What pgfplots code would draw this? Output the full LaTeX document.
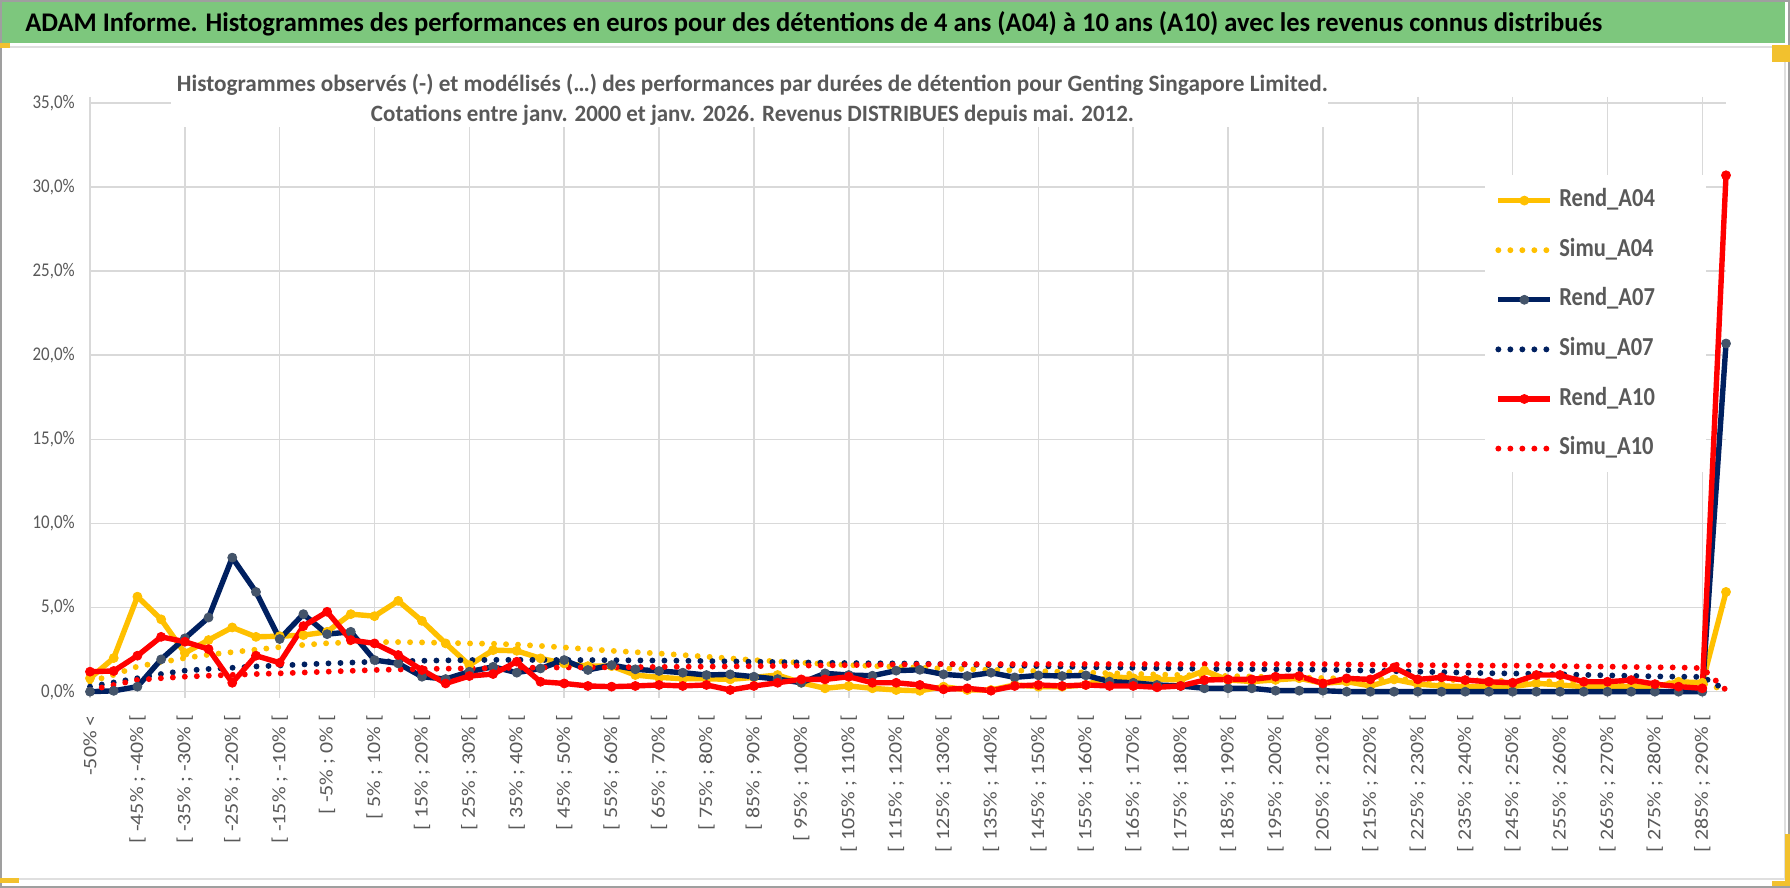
\documentclass[border=0pt]{standalone}
\usepackage{fontspec}
\setmainfont{Carlito}
\usepackage{graphicx}
\usepackage{pgfplots}
\usepackage{pgfplotstable}
\pgfplotsset{compat=1.18}
\definecolor{cOr}{HTML}{FFC000}
\definecolor{cNavy}{HTML}{002060}
\definecolor{cRed}{HTML}{FF0000}
\definecolor{cMark}{HTML}{44546A}
\definecolor{cText}{HTML}{595959}
\definecolor{cGrid}{HTML}{D9D9D9}
\definecolor{cGreen}{HTML}{7DC77D}
\definecolor{cGold}{HTML}{F2C12E}

\pgfplotstableread{
i r04 s04 r07 s07 r10 s10
0 0.80 0.60 0.00 0.30 1.19 0.10
1 2.00 1.00 0.05 0.55 1.23 0.40
2 5.65 1.50 0.30 0.80 2.14 0.70
3 4.30 1.75 1.92 1.05 3.26 0.80
4 2.30 2.00 3.17 1.25 2.97 0.89
5 3.07 2.20 4.41 1.35 2.53 0.95
6 3.82 2.35 7.97 1.42 0.53 1.00
7 3.26 2.50 5.93 1.50 2.14 1.05
8 3.30 2.65 3.13 1.56 1.72 1.09
9 3.36 2.78 4.61 1.62 3.90 1.14
10 3.56 2.88 3.42 1.68 4.75 1.19
11 4.61 2.93 3.56 1.73 3.07 1.24
12 4.49 2.95 1.88 1.78 2.87 1.29
13 5.40 2.95 1.68 1.81 2.18 1.32
14 4.21 2.93 0.89 1.84 1.29 1.35
15 2.87 2.90 0.75 1.86 0.49 1.37
16 1.58 2.87 1.19 1.88 0.93 1.38
17 2.47 2.85 1.48 1.89 1.05 1.40
18 2.43 2.80 1.13 1.89 1.78 1.42
19 1.98 2.72 1.38 1.89 0.59 1.43
20 1.68 2.63 1.88 1.88 0.49 1.44
21 1.52 2.53 1.29 1.88 0.34 1.45
22 1.52 2.43 1.58 1.87 0.30 1.45
23 0.99 2.35 1.33 1.86 0.34 1.46
24 0.85 2.27 1.23 1.85 0.40 1.47
25 0.77 2.18 1.13 1.84 0.34 1.48
26 0.77 2.08 0.99 1.82 0.40 1.49
27 0.73 1.98 1.03 1.80 0.10 1.50
28 0.85 1.88 0.89 1.78 0.34 1.52
29 0.99 1.80 0.75 1.76 0.53 1.53
30 0.53 1.72 0.53 1.74 0.73 1.55
31 0.20 1.65 1.09 1.72 0.73 1.56
32 0.34 1.58 0.99 1.70 0.89 1.58
33 0.20 1.53 0.95 1.69 0.53 1.60
34 0.10 1.48 1.25 1.68 0.53 1.61
35 0.05 1.43 1.30 1.67 0.40 1.62
36 0.30 1.38 1.03 1.64 0.14 1.64
37 0.10 1.34 0.93 1.61 0.20 1.64
38 0.10 1.30 1.13 1.58 0.06 1.64
39 0.40 1.26 0.85 1.55 0.34 1.64
40 0.30 1.22 0.97 1.52 0.40 1.64
41 0.30 1.18 0.93 1.49 0.34 1.64
42 0.40 1.14 0.97 1.46 0.40 1.64
43 0.90 1.10 0.60 1.44 0.34 1.64
44 0.80 1.06 0.53 1.42 0.34 1.64
45 0.75 1.02 0.40 1.40 0.26 1.64
46 0.70 0.99 0.34 1.38 0.34 1.64
47 1.25 0.96 0.20 1.36 0.69 1.64
48 0.70 0.93 0.20 1.35 0.73 1.64
49 0.60 0.90 0.20 1.34 0.73 1.64
50 0.70 0.87 0.06 1.33 0.89 1.64
51 0.80 0.84 0.06 1.32 0.93 1.64
52 0.50 0.81 0.06 1.31 0.49 1.64
53 0.60 0.78 0.00 1.28 0.79 1.62
54 0.34 0.76 0.00 1.25 0.73 1.61
55 0.73 0.74 0.00 1.22 1.44 1.60
56 0.45 0.72 0.00 1.19 0.73 1.58
57 0.34 0.70 0.00 1.16 0.85 1.57
58 0.30 0.68 0.00 1.13 0.69 1.56
59 0.30 0.66 0.00 1.10 0.59 1.55
60 0.30 0.64 0.00 1.08 0.53 1.55
61 0.50 0.62 0.00 1.06 0.99 1.54
62 0.40 0.60 0.00 1.03 0.99 1.52
63 0.30 0.58 0.00 1.00 0.59 1.50
64 0.30 0.56 0.00 0.97 0.59 1.49
65 0.30 0.54 0.00 0.94 0.69 1.47
66 0.30 0.52 0.00 0.91 0.45 1.45
67 0.59 0.50 0.00 0.89 0.30 1.44
68 0.53 0.49 0.00 0.88 0.20 1.40
69 5.93 0.10 20.70 0.10 30.70 0.10
}\data

\begin{document}
\begin{tikzpicture}[x=1bp,y=1bp]
\useasboundingbox (0,0) rectangle (895,444);
\fill[white] (0,0) rectangle (895,444);
% banner
\fill[cGreen] (0,422.5) rectangle (892.5,443.2);
\draw[color=gray!25, line width=1.2bp] (1,420.5) -- (892.5,420.5) -- (892.5,4.5) -- (1,4.5);
\draw[color=gray!75, line width=0.9bp] (0.45,0.45) rectangle (894.55,443.55);
\fill[cGold] (0,420) rectangle (5,422.5);
\fill[cGold] (886,413) rectangle (895,421.5);
\fill[cGold] (0,2.5) rectangle (9.5,5);
\fill[cGold] (892.5,1) rectangle (895,27);
\fill[cGold] (886,1) rectangle (895,3.5);
\node[anchor=base west, inner sep=0pt] at (12.5,428.2)
  {\resizebox{788.5bp}{\height}{\fontsize{13.5}{15}\selectfont\bfseries ADAM Informe. Histogrammes des performances en euros pour des détentions de 4 ans (A04) à 10 ans (A10) avec les revenus connus distribués}};

\begin{axis}[
  at={(45bp,98.15bp)}, anchor=south west,
  scale only axis, width=818bp, height=294.35bp,
  xmin=0, xmax=69, ymin=0, ymax=35,
  clip=false,
  axis line style={draw=none},
  major tick length=0pt,
  xtick={0,2,...,68},
  xticklabels={{-50\% <},{[ -45\% ; -40\% [},{[ -35\% ; -30\% [},{[ -25\% ; -20\% [},{[ -15\% ; -10\% [},{[ -5\% ; 0\% [},{[ 5\% ; 10\% [},{[ 15\% ; 20\% [},{[ 25\% ; 30\% [},{[ 35\% ; 40\% [},{[ 45\% ; 50\% [},{[ 55\% ; 60\% [},{[ 65\% ; 70\% [},{[ 75\% ; 80\% [},{[ 85\% ; 90\% [},{[ 95\% ; 100\% [},{[ 105\% ; 110\% [},{[ 115\% ; 120\% [},{[ 125\% ; 130\% [},{[ 135\% ; 140\% [},{[ 145\% ; 150\% [},{[ 155\% ; 160\% [},{[ 165\% ; 170\% [},{[ 175\% ; 180\% [},{[ 185\% ; 190\% [},{[ 195\% ; 200\% [},{[ 205\% ; 210\% [},{[ 215\% ; 220\% [},{[ 225\% ; 230\% [},{[ 235\% ; 240\% [},{[ 245\% ; 250\% [},{[ 255\% ; 260\% [},{[ 265\% ; 270\% [},{[ 275\% ; 280\% [},{[ 285\% ; 290\% [}},
  xticklabel style={font=\fontsize{11}{12}\selectfont, text=cText, rotate=90, anchor=east, inner sep=0pt, yscale=0.87},
  xticklabel shift=11.6bp,
  ytick={0,5,...,35},
  yticklabel={\pgfmathprintnumber[assume math mode=true,fixed,fixed zerofill,precision=1,use comma]{\tick}\%},
  yticklabel style={font=\fontsize{9.75}{11}\selectfont, text=cText, anchor=east, inner sep=0pt, xscale=0.87},
  yticklabel shift=7.5bp,
  ymajorgrids,
  major grid style={color=cGrid, line width=0.8bp},
  extra x ticks={0,4,...,68},
  extra x tick labels={},
  extra x tick style={grid=major, tick align=outside, major tick length=3bp, tick style={color=cGrid, line width=0.8bp}},
  legend style={at={(0.8588,0.8556)}, anchor=north west, draw=none, fill=none, inner sep=0pt,
    font=\fontsize{13}{15}\selectfont\bfseries, text=cText, row sep=12.6bp, column sep=3bp,
    nodes={inner sep=0pt, text height=9.2bp, text depth=3bp}},
  legend cell align=left,
  legend image code/.code={\draw[mark repeat=2,mark phase=2,#1] plot coordinates {(0bp,0bp) (13bp,0bp) (26bp,0bp)};},
]
\fill[white] (rel axis cs:0.8527,0.3732) rectangle (rel axis cs:0.9878,0.8777);
\addplot[color=cOr, line width=2.7bp, line join=round, mark=*, mark size=2.25bp, mark options={solid, fill=cOr, draw=cOr, line width=0.4bp}] table[x=i,y=r04]{\data};
\addlegendentry{\scalebox{0.87}[1]{Rend\_A04}}
\addplot[color=cOr, line width=2.95bp, line cap=round, line join=round, dash pattern=on 0bp off 6bp] table[x=i,y=s04]{\data};
\addlegendentry{\scalebox{0.87}[1]{Simu\_A04}}
\addplot[color=cNavy, line width=2.7bp, line join=round, mark=*, mark size=2.25bp, mark options={solid, fill=cMark, draw=cMark, line width=0.4bp}] table[x=i,y=r07]{\data};
\addlegendentry{\scalebox{0.87}[1]{Rend\_A07}}
\addplot[color=cNavy, line width=2.95bp, line cap=round, line join=round, dash pattern=on 0bp off 6bp] table[x=i,y=s07]{\data};
\addlegendentry{\scalebox{0.87}[1]{Simu\_A07}}
\addplot[color=cRed, line width=2.7bp, line join=round, mark=*, mark size=2.25bp, mark options={solid, fill=cRed, draw=cRed, line width=0.4bp}] table[x=i,y=r10]{\data};
\addlegendentry{\scalebox{0.87}[1]{Rend\_A10}}
\addplot[color=cRed, line width=2.95bp, line cap=round, line join=round, dash pattern=on 0bp off 6bp] table[x=i,y=s10]{\data};
\addlegendentry{\scalebox{0.87}[1]{Simu\_A10}}
\end{axis}

% subtitle box
\fill[white] (85.5,380.5) rectangle (664,413);
\node[anchor=base, inner sep=0pt, text=cText] at (376.25,398.2)
  {\resizebox{575.5bp}{\height}{\fontsize{11.75}{13}\selectfont\bfseries Histogrammes observés (-) et modélisés (…) des performances par durées de détention pour Genting Singapore Limited.}};
\node[anchor=base, inner sep=0pt, text=cText] at (376.25,383.2)
  {\resizebox{381.5bp}{\height}{\fontsize{11.75}{13}\selectfont\bfseries Cotations entre janv. 2000 et janv. 2026. Revenus DISTRIBUES depuis mai. 2012.}};
\end{tikzpicture}
\end{document}
